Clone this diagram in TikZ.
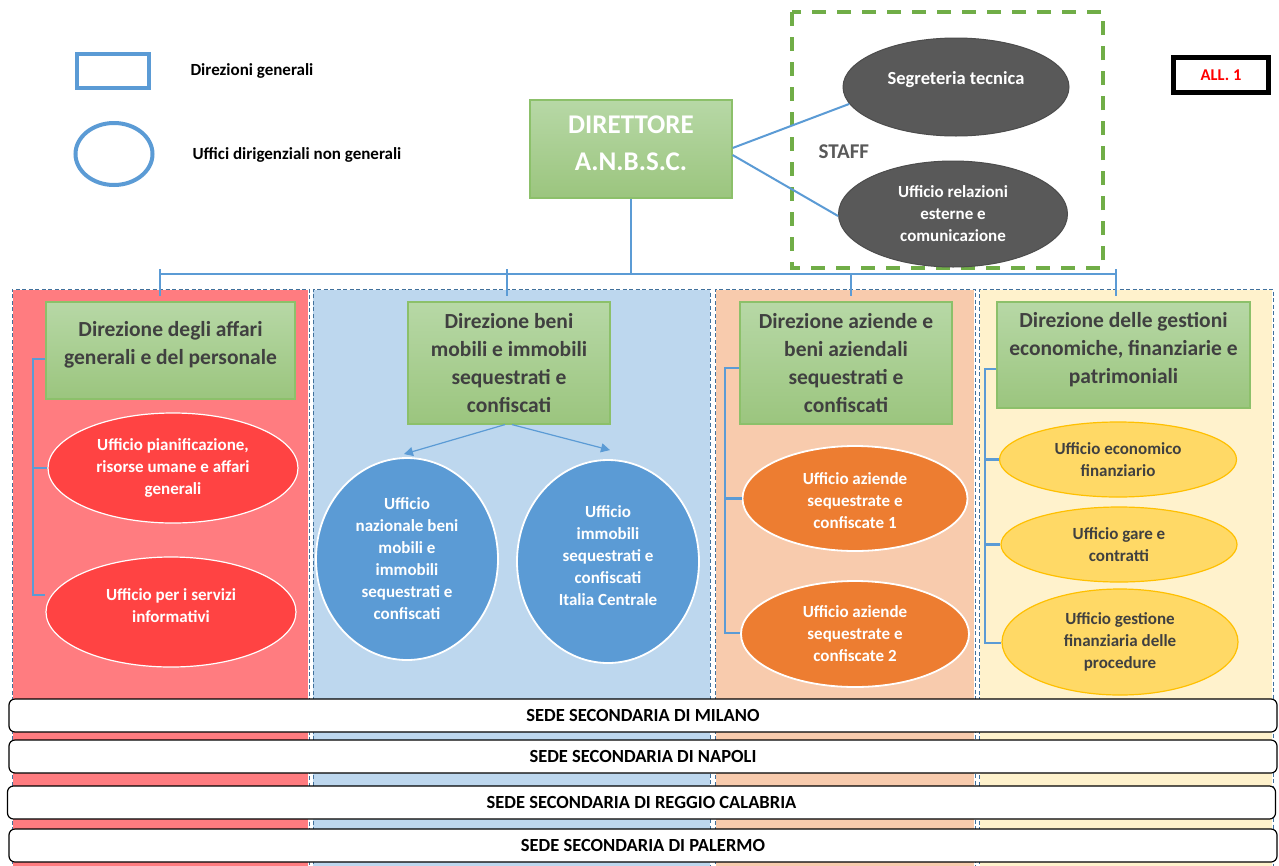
\documentclass[tikz,border=0pt]{standalone}
\usepackage{fontspec}
\setmainfont{Carlito}
\usetikzlibrary{shapes.geometric,arrows.meta}
\definecolor{lblue}{HTML}{5B9BD5}
\definecolor{gline}{HTML}{70AD47}
\definecolor{darkg}{HTML}{595959}
\definecolor{txtg}{HTML}{404040}
\definecolor{colA}{HTML}{FF7C80}
\definecolor{colB}{HTML}{BDD7EE}
\definecolor{colC}{HTML}{F8CBAD}
\definecolor{colD}{HTML}{FFF2CC}
\definecolor{redE}{HTML}{FF4343}
\definecolor{orangeE}{HTML}{ED7D31}
\definecolor{yelE}{HTML}{FFD966}
\definecolor{yelB}{HTML}{FFC000}
\definecolor{colborder}{HTML}{41719C}
\definecolor{gtop}{HTML}{B7D8A6}
\definecolor{gbot}{HTML}{9BC57E}
\definecolor{gborder}{HTML}{8CC06A}
\tikzset{
  x=1pt, y=-1pt,
  dirfont/.style={align=center, text=txtg, font=\bfseries\fontsize{21.5}{28}\selectfont},
  dirbox/.style={rectangle, draw=gborder, line width=1.2pt, top color=gtop, bottom color=gbot,
    inner sep=0pt, dirfont},
  offfont/.style={align=center, font=\bfseries\fontsize{17}{22}\selectfont},
  office/.style={ellipse, inner sep=0pt, line width=1.2pt, offfont},
  redoff/.style={office, fill=redE, draw=white, text=white},
  blueoff/.style={office, fill=lblue, draw=white, line width=1.8pt, text=white},
  orangeoff/.style={office, fill=orangeE, draw=white, line width=1.8pt, text=white},
  yeloff/.style={office, fill=yelE, draw=yelB, text=txtg},
  staffoff/.style={office, fill=darkg, draw=black!70, line width=1pt, text=white},
  sede/.style={rectangle, rounded corners=6pt, draw=black, line width=1.2pt, fill=white,
    minimum width=1268pt, minimum height=33pt, inner sep=0pt, font=\bfseries\fontsize{18.5}{20}\selectfont},
  colfill/.style={draw=white, line width=2.2pt},
  colline/.style={draw=colborder, line width=1pt, dash pattern=on 4pt off 2.5pt},
  conn/.style={draw=lblue, line width=2.5pt},
  thinconn/.style={draw=lblue, line width=1.2pt},
}
\begin{document}
\begin{tikzpicture}
\useasboundingbox (0,0) rectangle (1279,865);
\fill[white] (0,0) rectangle (1279,865);

% legend
\node[draw=lblue, line width=4pt, minimum width=72pt, minimum height=34pt, inner sep=0pt] (legR) at (112.5,70.5) {};
\node[anchor=west, font=\bfseries\fontsize{17}{20}\selectfont] (legRt) at (187,71) {Direzioni generali};
\node[ellipse, draw=lblue, line width=4pt, minimum width=77pt, minimum height=62pt, inner sep=0pt] (legE) at (114,154) {};
\node[anchor=west, font=\bfseries\fontsize{17}{20}\selectfont] (legEt) at (189,155) {Uffici dirigenziali non generali};

% ALL. 1
\node[draw=black, line width=4.5pt, minimum width=95pt, minimum height=35pt, inner sep=0pt,
  text=red, font=\bfseries\fontsize{16.5}{18}\selectfont] (all) at (1221,75) {ALL. 1};

% columns
\path[colfill, fill=colA] (12,289) rectangle (309,870);
\path[colfill, fill=colB] (312,289) rectangle (711,870);
\path[colfill, fill=colC] (715,289) rectangle (975,870);
\path[colfill, fill=colD] (979,289) rectangle (1273,870);
\path[colline] (12,870) -- (12,289) -- (309,289) -- (309,870);
\path[colline] (313,870) -- (313,289) -- (710,289) -- (710,870);
\path[colline] (715,870) -- (715,289) -- (975,289) -- (975,870);
\path[colline] (979,870) -- (979,289) -- (1273,289) -- (1273,870);

% director
\node[dirbox, minimum width=202pt, minimum height=98pt] (dir) at (631,149) {};
\node[dirfont, text=white, font=\bfseries\fontsize{27}{37}\selectfont] (dirt) at ([yshift=5.5pt]dir.center) {DIRETTORE\\A.N.B.S.C.};

% staff
\draw[gline, line width=4pt, dash pattern=on 14pt off 11pt] (792,12) rectangle (1103,268);
\node[staffoff, minimum width=226pt, minimum height=98pt] (seg) at (956,87) {};
\node[offfont, text=white, font=\bfseries\fontsize{18.5}{22}\selectfont] (segt) at ([yshift=7pt]seg.center) {Segreteria tecnica};
\node[staffoff, minimum width=229pt, minimum height=106pt] (rel) at (953,214) {Ufficio relazioni\\esterne e\\comunicazione};
\node[text=darkg, font=\bfseries\fontsize{21}{24}\selectfont, anchor=west] (staff) at (815,152) {STAFF};
\draw[thinconn, line width=2pt] ([yshift=1pt]dir.east) -- (seg.189);
\draw[thinconn, line width=2pt] ([yshift=-6pt]dir.east) -- (rel.181);

% direction boxes
\node[dirbox, minimum width=249pt, minimum height=97pt] (d1) at (170.5,350.5) {};
\node[dirfont] (d1t) at ([yshift=6pt]d1.center) {Direzione degli affari\\generali e del personale};
\node[dirbox, minimum width=202pt, minimum height=122pt] (d2) at (509,363) {Direzione beni\\mobili e immobili\\sequestrati e\\confiscati};
\node[dirbox, minimum width=212pt, minimum height=122pt] (d3) at (846,363) {Direzione aziende e\\beni aziendali\\sequestrati e\\confiscati};
\node[dirbox, minimum width=253pt, minimum height=106pt] (d4) at (1123.5,355) {};
\node[dirfont] (d4t) at ([yshift=5pt]d4.center) {Direzione delle gestioni\\economiche, finanziarie e\\patrimoniali};

% bus
\coordinate (busL) at (160,274);
\coordinate (busR) at (1116,274);
\coordinate (t1) at (160,296);
\coordinate (t2) at (507,296);
\coordinate (t3) at (851,296);
\coordinate (t4) at (1116,296);
\draw[conn] (dir.south) -- (dir.south |- busL);
\draw[conn] (busL) -- (busR);
\draw[conn] (160,269) -- (t1);
\draw[conn] (507,269) -- (t2);
\draw[conn] (851,274) -- (t3);
\draw[conn] (1116,269) -- (t4);

% column 1 offices
\node[redoff, minimum width=250pt, minimum height=110pt] (e1) at (173,468) {Ufficio pianificazione,\\risorse umane e affari\\generali};
\node[redoff, minimum width=250pt, minimum height=110pt] (e2) at (171,612) {};
\node[offfont, text=white] (e2t) at ([yshift=6pt]e2.center) {Ufficio per i servizi\\informativi};
\coordinate (b1) at (33,359);
\coordinate (b1e) at (33,595);
\draw[conn] (d1.west |- b1) -- (b1) -- (b1e) -- (e2.west |- b1e);
\draw[conn] (b1 |- e1.west) -- (e1.west);

% column 2 offices
\node[blueoff, minimum width=182pt, minimum height=202pt] (c1) at (407,559) {Ufficio\\nazionale beni\\mobili e\\immobili\\sequestrati e\\confiscati};
\node[blueoff, minimum width=182pt, minimum height=203pt] (c2) at (608,561.5) {};
\node[offfont, text=white] (c2t) at ([yshift=5.5pt]c2.center) {Ufficio\\immobili\\sequestrati e\\confiscati\\Italia Centrale};
\draw[thinconn, -{Triangle[length=9pt,width=9pt]}] ([xshift=-4pt]d2.south) -- ([xshift=-3pt,yshift=3pt]c1.north);
\draw[thinconn, -{Triangle[length=9pt,width=9pt]}] ([xshift=3pt]d2.south) -- ([xshift=2pt,yshift=9pt]c2.north);

% column 3 offices
\node[orangeoff, minimum width=225pt, minimum height=105pt] (o1) at (855,498.5) {};
\node[offfont, text=white] (o1t) at ([yshift=-2.5pt]o1.center) {Ufficio aziende\\sequestrate e\\confiscate 1};
\node[orangeoff, minimum width=228pt, minimum height=106pt] (o2) at (855,634) {Ufficio aziende\\sequestrate e\\confiscate 2};
\coordinate (b3) at (725,368);
\coordinate (b3e) at (725,633);
\draw[conn] (d3.west |- b3) -- (b3) -- (b3e) -- (o2.west |- b3e);
\draw[conn] (b3 |- o1.west) -- (o1.west);

% column 4 offices
\node[yeloff, minimum width=237pt, minimum height=75pt] (y1) at (1118,459.5) {Ufficio economico\\finanziario};
\node[yeloff, minimum width=236pt, minimum height=75pt] (y2) at (1119,544.5) {Ufficio gare e\\contratti};
\node[yeloff, minimum width=236pt, minimum height=106pt] (y3) at (1120,642) {Ufficio gestione\\finanziaria delle\\procedure};
\coordinate (b4) at (985,369);
\coordinate (b4e) at (985,643);
\draw[conn] (d4.west |- b4) -- (b4) -- (b4e) -- (y3.west |- b4e);
\draw[conn] (b4 |- y1.west) -- (y1.west);
\draw[conn] (b4 |- y2.west) -- (y2.west);

% sedi
\node[sede] (mi) at (643,715.5) {SEDE SECONDARIA DI MILANO};
\node[sede] (na) at (643,756.5) {SEDE SECONDARIA DI NAPOLI};
\node[sede] (rc) at (641.5,802.5) {SEDE SECONDARIA DI REGGIO CALABRIA};
\node[sede] (pa) at (643,845.5) {SEDE SECONDARIA DI PALERMO};
\end{tikzpicture}
\end{document}
